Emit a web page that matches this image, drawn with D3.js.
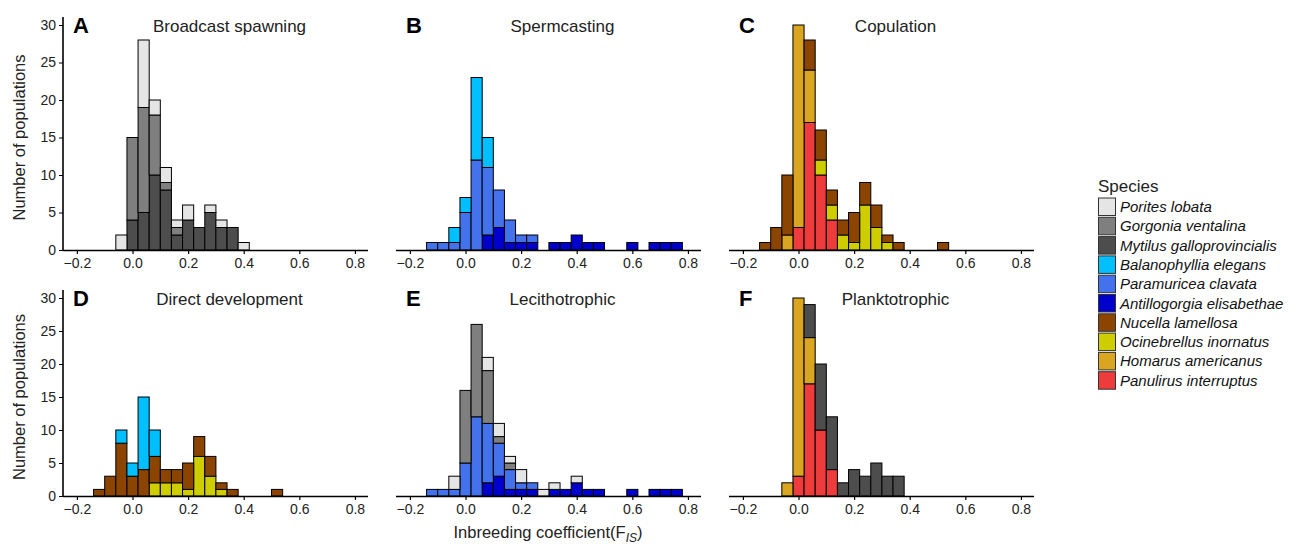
<!DOCTYPE html>
<html><head><meta charset="utf-8">
<script src="https://d3js.org/d3.v7.min.js"></script>
<style>body{margin:0;background:#fff}text{font-family:"Liberation Sans",Arial,sans-serif}</style>
</head><body><svg id="c" width="1303" height="544"></svg>
<script>
const species = ["Porites lobata","Gorgonia ventalina","Mytilus galloprovincialis","Balanophyllia elegans","Paramuricea clavata","Antillogorgia elisabethae","Nucella lamellosa","Ocinebrellus inornatus","Homarus americanus","Panulirus interruptus"];
const colors = ["#e5e5e5","#7f7f7f","#4d4d4d","#00bfff","#4472ec","#0000cd","#8b4500","#cdcd00","#daa520","#ee3b3b"];
const panelLetters = ["A","B","C","D","E","F"];
const panelTitles = ["Broadcast spawning","Spermcasting","Copulation","Direct development","Lecithotrophic","Planktotrophic"];
const xTicks = [-0.2,0.0,0.2,0.4,0.6,0.8];
const yTicks = [0,5,10,15,20,25,30];
// [bin centre, count] per species
const A_Porites = [[-0.04,2],[0.04,9],[0.08,2],[0.12,2],[0.16,1],[0.20,2],[0.28,1],[0.32,1],[0.40,1]];
const A_Gorgonia = [[0.0,11],[0.04,14],[0.08,8],[0.12,1],[0.16,1]];
const A_Mytilus = [[0.0,4],[0.04,5],[0.08,10],[0.12,8],[0.16,2],[0.20,4],[0.24,3],[0.28,5],[0.32,3],[0.36,3]];
const B_Balanophyllia = [[-0.04,2],[0.0,2],[0.04,11],[0.08,4]];
const B_Paramuricea = [[-0.12,1],[-0.08,1],[-0.04,1],[0.0,5],[0.04,12],[0.08,9],[0.12,5],[0.16,3],[0.20,1],[0.24,1]];
const B_Antillogorgia = [[0.08,2],[0.12,3],[0.16,1],[0.20,1],[0.24,1],[0.32,1],[0.36,1],[0.40,2],[0.44,1],[0.48,1],[0.60,1],[0.68,1],[0.72,1],[0.76,1]];
const C_Nucella = [[-0.12,1],[-0.08,3],[-0.04,8],[0.04,4],[0.08,4],[0.12,2],[0.16,2],[0.20,4],[0.24,3],[0.28,3],[0.32,1],[0.36,1],[0.52,1]];
const C_Ocinebrellus = [[0.08,2],[0.12,2],[0.16,2],[0.20,1],[0.24,6],[0.28,3],[0.32,1]];
const C_Homarus = [[-0.04,2],[0.0,27],[0.04,7]];
const C_Panulirus = [[0.0,3],[0.04,17],[0.08,10],[0.12,4]];
const D_Balanophyllia = [[-0.04,2],[0.0,2],[0.04,11],[0.08,4]];
const D_Nucella = [[-0.12,1],[-0.08,3],[-0.04,8],[0.0,3],[0.04,4],[0.08,4],[0.12,2],[0.16,2],[0.20,4],[0.24,3],[0.28,3],[0.32,1],[0.36,1],[0.52,1]];
const D_Ocinebrellus = [[0.08,2],[0.12,2],[0.16,2],[0.20,1],[0.24,6],[0.28,3],[0.32,1]];
const E_Porites = [[-0.04,2],[0.08,2],[0.12,2],[0.16,1],[0.20,2],[0.28,1],[0.32,1],[0.40,1]];
const E_Gorgonia = [[0.0,11],[0.04,14],[0.08,8],[0.12,1],[0.16,1]];
const E_Paramuricea = [[-0.12,1],[-0.08,1],[-0.04,1],[0.0,5],[0.04,12],[0.08,9],[0.12,5],[0.16,3],[0.20,1],[0.24,1]];
const E_Antillogorgia = [[0.08,2],[0.12,3],[0.16,1],[0.20,1],[0.24,1],[0.32,1],[0.36,1],[0.40,2],[0.44,1],[0.48,1],[0.60,1],[0.68,1],[0.72,1],[0.76,1]];
const F_Mytilus = [[0.04,5],[0.08,10],[0.12,8],[0.16,2],[0.20,4],[0.24,3],[0.28,5],[0.32,3],[0.36,3]];
const F_Homarus = [[-0.04,2],[0.0,27],[0.04,7]];
const F_Panulirus = [[0.0,3],[0.04,17],[0.08,10],[0.12,4]];

const panels = [
  {"Porites lobata":A_Porites,"Gorgonia ventalina":A_Gorgonia,"Mytilus galloprovincialis":A_Mytilus},
  {"Balanophyllia elegans":B_Balanophyllia,"Paramuricea clavata":B_Paramuricea,"Antillogorgia elisabethae":B_Antillogorgia},
  {"Nucella lamellosa":C_Nucella,"Ocinebrellus inornatus":C_Ocinebrellus,"Homarus americanus":C_Homarus,"Panulirus interruptus":C_Panulirus},
  {"Balanophyllia elegans":D_Balanophyllia,"Nucella lamellosa":D_Nucella,"Ocinebrellus inornatus":D_Ocinebrellus},
  {"Porites lobata":E_Porites,"Gorgonia ventalina":E_Gorgonia,"Paramuricea clavata":E_Paramuricea,"Antillogorgia elisabethae":E_Antillogorgia},
  {"Mytilus galloprovincialis":F_Mytilus,"Homarus americanus":F_Homarus,"Panulirus interruptus":F_Panulirus}
];
const color = d3.scaleOrdinal(species, colors);
const svg = d3.select("#c");
const binW = 0.04;
const rows = [{base:250, top30:25},{base:496, top30:298}];
panels.forEach((p,i)=>{
  const col=i%3, row=Math.floor(i/3);
  const left = 63 + col*333, w = 305;
  const x = d3.scaleLinear([-0.25,0.847],[left,left+w]);
  const y = d3.scaleLinear([0,30],[rows[row].base, rows[row].top30]);
  const g = svg.append("g");
  const order = species.slice().reverse().filter(s=>p[s]);
  const acc = new Map();
  order.forEach(s=>{
    p[s].forEach(([c,n])=>{
      const k=c.toFixed(2); const y0=acc.get(k)||0;
      g.append("rect").attr("x",x(c-binW/2)).attr("width",x(c+binW/2)-x(c-binW/2))
        .attr("y",y(y0+n)).attr("height",y(y0)-y(y0+n))
        .attr("fill",color(s)).attr("stroke","#000").attr("stroke-width",1);
      acc.set(k,y0+n);
    });
  });
  const xa = g.append("g").attr("transform",`translate(0,${rows[row].base})`)
    .call(d3.axisBottom(x).tickValues(xTicks).tickSize(4).tickPadding(4).tickFormat(d3.format(".1f")));
  xa.select(".domain").attr("d",`M${left},0.5H${left+w}`).attr("stroke-width",1.6);
  xa.selectAll("text").attr("font-size",14).attr("fill","#222");
  xa.selectAll(".tick line").attr("stroke-width",1.2);
  if(col===0){
    const ya = g.append("g").attr("transform",`translate(${left},0)`)
      .call(d3.axisLeft(y).tickValues(yTicks).tickSize(4).tickPadding(3));
    ya.select(".domain").attr("d",`M0,${rows[row].base}V${rows[row].top30-8}`).attr("stroke-width",1.6);
    ya.selectAll("text").attr("font-size",14).attr("fill","#222");
    svg.append("text").attr("transform",`translate(25,${(rows[row].base+rows[row].top30)/2}) rotate(-90)`)
      .attr("text-anchor","middle").attr("font-size",16.5).attr("fill","#222").text("Number of populations");
  }
  svg.append("text").attr("x",left+10).attr("y",rows[row].top30+8).attr("font-size",22).attr("font-weight","bold").text(panelLetters[i]);
  svg.append("text").attr("x",left+w/2+14).attr("y",rows[row].top30+7).attr("text-anchor","middle").attr("font-size",17).attr("fill","#222").text(panelTitles[i]);
});
const xl = svg.append("text").attr("x",548).attr("y",538).attr("text-anchor","middle").attr("font-size",16.5).attr("fill","#222");
xl.append("tspan").text("Inbreeding coefficient(F");
xl.append("tspan").attr("font-style","italic").attr("font-size",12).attr("dy",4).text("IS");
xl.append("tspan").attr("dy",-4).text(")");
const lg = svg.append("g").attr("transform","translate(1098,0)");
lg.append("text").attr("x",0).attr("y",192).attr("font-size",17).attr("fill","#222").text("Species");
species.forEach((s,i)=>{
  lg.append("rect").attr("x",0.5).attr("y",198+i*19.3).attr("width",17).attr("height",17.5).attr("fill",colors[i]).attr("stroke","#333").attr("stroke-width",1);
  lg.append("text").attr("x",22).attr("y",212+i*19.3).attr("font-size",15).attr("font-style","italic").attr("fill","#111").text(s);
});
</script></body></html>
